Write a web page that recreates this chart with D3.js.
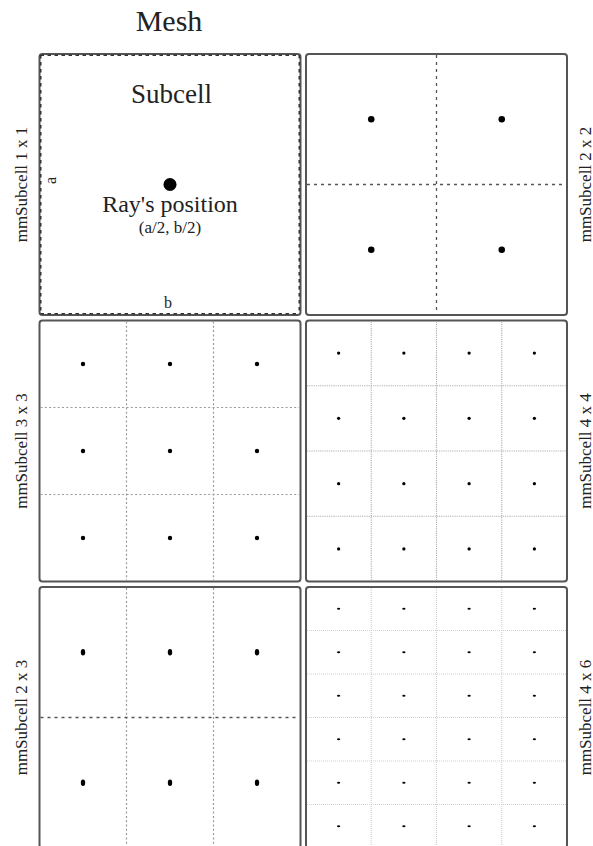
<!DOCTYPE html>
<html><head><meta charset="utf-8">
<script src="https://cdn.jsdelivr.net/npm/d3@7"></script>
<style>html,body{margin:0;padding:0;background:#fff;overflow:hidden}</style>
</head><body>
<svg id="c" width="593" height="846"></svg>
<script>
// Data
const meshLabels = ["mmSubcell 1 x 1","mmSubcell 2 x 2","mmSubcell 3 x 3","mmSubcell 4 x 4","mmSubcell 2 x 3","mmSubcell 4 x 6"];
const meshCols   = [1, 2, 3, 4, 3, 4];
const meshRows   = [1, 2, 3, 4, 2, 6];
const panelColumn = [0, 1, 0, 1, 0, 1];
const panelRow    = [0, 0, 1, 1, 2, 2];
const titleText = "Mesh";

const svg = d3.select("#c");
const font = "'Liberation Serif','Times New Roman',serif";

const colScale = d3.scaleBand().domain([0,1]).range([39.5, 567]).paddingInner(0.0206);
const rowScale = d3.scaleBand().domain([0,1,2]).range([54, 848]).paddingInner(0.0206);
const pw = colScale.bandwidth(), ph = rowScale.bandwidth();

svg.append("text").attr("x", colScale(0)+pw/2-1).attr("y", 30.5)
  .attr("text-anchor","middle").style("font-family",font).style("font-size","30px")
  .attr("fill","#222").text(titleText);

function lineStyle(n){
  if (n<=1) return {c:"#333", w:1.6, d:"3.5,3.5"};
  if (n===2) return {c:"#555", w:1.3, d:"3,4"};
  if (n===3) return {c:"#999", w:1.2, d:"2,2.3"};
  if (n===4) return {c:"#b0b0b0", w:1.1, d:"1.2,1"};
  return {c:"#cfcfcf", w:1.1, d:"1,1"};
}

meshLabels.forEach((lab, k) => {
  const x0 = colScale(panelColumn[k]), y0 = rowScale(panelRow[k]);
  const nc = meshCols[k], nr = meshRows[k];
  const x = d3.scaleLinear().domain([0, nc]).range([x0, x0+pw]);
  const y = d3.scaleLinear().domain([0, nr]).range([y0, y0+ph]);
  const g = svg.append("g");

  g.append("rect").attr("x",x0).attr("y",y0).attr("width",pw).attr("height",ph)
    .attr("rx",3).attr("fill","#fff").attr("stroke","#555").attr("stroke-width",2);

  const inset = nc===1 ? 1.2 : 0;
  const vIdx = nc===1 ? [0,1] : d3.range(1, nc);
  const hIdx = nr===1 ? [0,1] : d3.range(1, nr);
  const vs = lineStyle(nc===1?1:Math.max(nc,nr));
  const hsDensity = (nc===3 && nr===2) ? 2 : (nr===1?1:Math.max(nc,nr));
  const hs = lineStyle(hsDensity);
  g.selectAll(".v").data(vIdx).join("line")
    .attr("x1",d=>x(d)+(d===0?inset:-inset)).attr("x2",d=>x(d)+(d===0?inset:-inset))
    .attr("y1",y0+1).attr("y2",y0+ph-1)
    .attr("stroke",vs.c).attr("stroke-width",vs.w).attr("stroke-dasharray",vs.d);
  g.selectAll(".h").data(hIdx).join("line")
    .attr("y1",d=>y(d)+(d===0?inset:-inset)).attr("y2",d=>y(d)+(d===0?inset:-inset))
    .attr("x1",x0+1).attr("x2",x0+pw-1)
    .attr("stroke",hs.c).attr("stroke-width",hs.w).attr("stroke-dasharray",hs.d);

  const pts = [];
  for (let i=0;i<nc;i++) for (let j=0;j<nr;j++) pts.push([i+0.5, j+0.5]);
  const cw = pw/nc, ch = ph/nr;
  g.selectAll(".p").data(pts).join("ellipse")
    .attr("cx",d=>x(d[0])).attr("cy",d=>y(d[1]))
    .attr("rx",Math.max(cw*0.025,1.1)).attr("ry",Math.max(ch*0.025,1.1))
    .attr("fill","#000");

  const lx = panelColumn[k]===0 ? 26.5 : 590.5;
  const ly = y0 + ph/2;
  svg.append("text").attr("transform",`translate(${lx},${ly}) rotate(-90)`)
    .attr("text-anchor","middle").style("font-family",font).style("font-size","17px")
    .attr("fill","#222").text(lab);

  if (k===0){
    const cx = x(0.5);
    g.append("text").attr("x",cx+1.5).attr("y",y0+49).attr("text-anchor","middle")
      .style("font-family",font).style("font-size","27px").attr("fill","#222").text("Subcell");
    g.append("text").attr("x",cx).attr("y",y0+158).attr("text-anchor","middle")
      .style("font-family",font).style("font-size","24px").attr("fill","#222").text("Ray's position");
    g.append("text").attr("x",cx).attr("y",y0+179).attr("text-anchor","middle")
      .style("font-family",font).style("font-size","17px").attr("fill","#222").text("(a/2, b/2)");
    g.append("text").attr("x",cx-2).attr("y",y0+ph-7).attr("text-anchor","middle")
      .style("font-family",font).style("font-size","16px").attr("fill","#222").text("b");
    g.append("text").attr("transform",`translate(${x0+16},${y(0.5)-4}) rotate(-90)`).attr("text-anchor","middle")
      .style("font-family",font).style("font-size","16px").attr("fill","#222").text("a");
  }
});
</script>
</body></html>
